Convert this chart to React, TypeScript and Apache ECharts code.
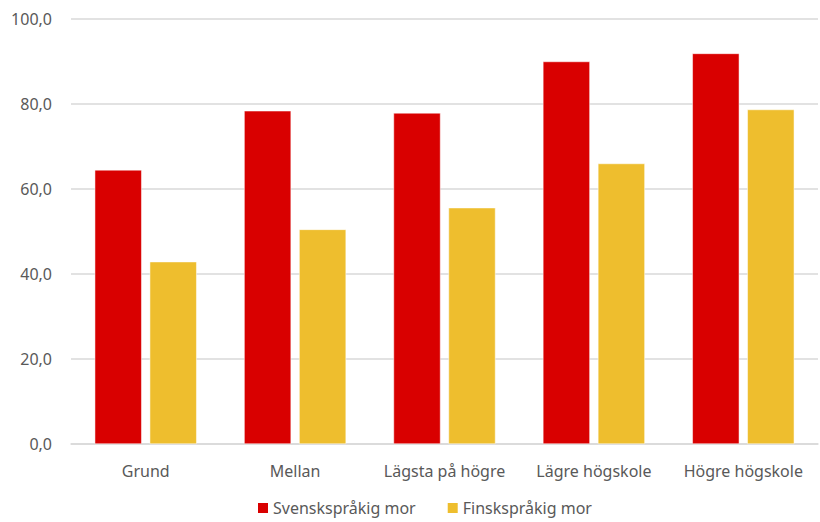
import React, { useEffect, useRef } from "react";
import * as echarts from "echarts";

const categories = ["Grund", "Mellan", "Lägsta på högre", "Lägre högskole", "Högre högskole"];
const svenskValues = [64.5, 78.4, 77.9, 90.0, 91.9];
const finskValues = [42.9, 50.5, 55.6, 66.0, 78.7];
const seriesNames = ["Svenskspråkig mor", "Finskspråkig mor"];

const FONT = "'Noto Sans', sans-serif";
const TEXT = "#595959";

export default function App() {
  const ref = useRef<HTMLDivElement>(null);
  useEffect(() => {
    const chart = echarts.init(ref.current!, null, { renderer: "svg" });
    chart.setOption({
      animation: false,
      backgroundColor: "#ffffff",
      grid: { left: 71, right: 2, top: 19, bottom: 78 },
      legend: {
        top: 500,
        left: 256,
        padding: 0,
        itemWidth: 12,
        itemHeight: 12,
        itemGap: 30,
        icon: "rect",
        textStyle: { color: TEXT, fontSize: 16, fontFamily: FONT, padding: [0, 0, 0, -1] },
        data: seriesNames,
      },
      xAxis: {
        type: "category",
        data: categories,
        axisTick: { show: false },
        axisLine: { lineStyle: { color: "#d9d9d9", width: 1.5 } },
        axisLabel: { color: TEXT, fontSize: 16, fontFamily: FONT, margin: 19, interval: 0 },
      },
      yAxis: {
        type: "value",
        min: 0,
        max: 100,
        interval: 20,
        axisLine: { show: false },
        axisTick: { show: false },
        splitLine: { lineStyle: { color: "#d9d9d9", width: 1.5 } },
        axisLabel: {
          color: TEXT,
          fontSize: 16,
          fontFamily: FONT,
          margin: 19,
          formatter: (v: number) => v.toFixed(1).replace(".", ","),
        },
      },
      series: [
        {
          name: seriesNames[0],
          type: "bar",
          data: svenskValues,
          barWidth: 47,
          barGap: "17%",
          itemStyle: { color: "#D90000", borderColor: "#ffffff", borderWidth: 0.5 },
        },
        {
          name: seriesNames[1],
          type: "bar",
          data: finskValues,
          barWidth: 47,
          barGap: "17%",
          itemStyle: { color: "#EEBE2E", borderColor: "#ffffff", borderWidth: 0.5 },
        },
      ],
    });
    return () => chart.dispose();
  }, []);
  return <div ref={ref} style={{ width: 820, height: 522, position: "absolute", left: 0, top: 0 }} />;
}
